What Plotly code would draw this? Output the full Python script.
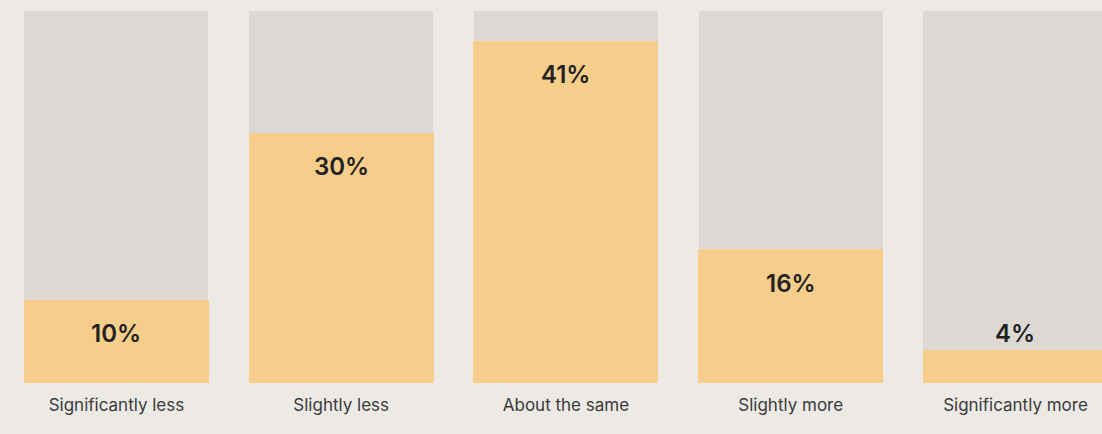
import plotly.graph_objects as go

categories = ["Significantly less", "Slightly less", "About the same", "Slightly more", "Significantly more"]
values = [10, 30, 41, 16, 4]
track_max = 44.6
labels = [f"{v}%" for v in values]

bg = "#EDEAE6"
track_col = "#DDD8D3"
bar_col = "#F6CD8B"
text_col = "#222222"

fig = go.Figure()
fig.add_trace(go.Bar(x=categories, y=[track_max] * len(categories), marker_color=track_col,
                     marker_line_width=0, width=0.819, hoverinfo="skip", showlegend=False))
fig.add_trace(go.Bar(x=categories, y=values, marker_color=bar_col, marker_line_width=0,
                     width=0.823, showlegend=False))

for c, v, lab in zip(categories, values, labels):
    fig.add_annotation(x=c, y=max(v, 10), text=lab, showarrow=False, yshift=-34,
                       font=dict(family="Inter", size=24, color=text_col, weight=600),
                       xanchor="center", yanchor="middle")

fig.update_layout(
    width=1102, height=434,
    margin=dict(l=0, r=0, t=0, b=51),
    paper_bgcolor=bg, plot_bgcolor=bg,
    barmode="overlay", bargap=0,
    xaxis=dict(range=[-0.518, 4.385], showgrid=False, zeroline=False, showline=False,
               ticks="", tickfont=dict(family="Inter", size=17, color="#3a3a3a", weight=400),
               ticklabelstandoff=10),
    yaxis=dict(range=[0, 45.9], visible=False, fixedrange=True),
)

fig.write_html("out.html",
               config={"displayModeBar": False},
               post_script="document.body.style.margin='0';document.body.style.padding='0';"
                           "document.body.style.overflow='hidden';"
                           "document.body.style.background='" + bg + "';")
